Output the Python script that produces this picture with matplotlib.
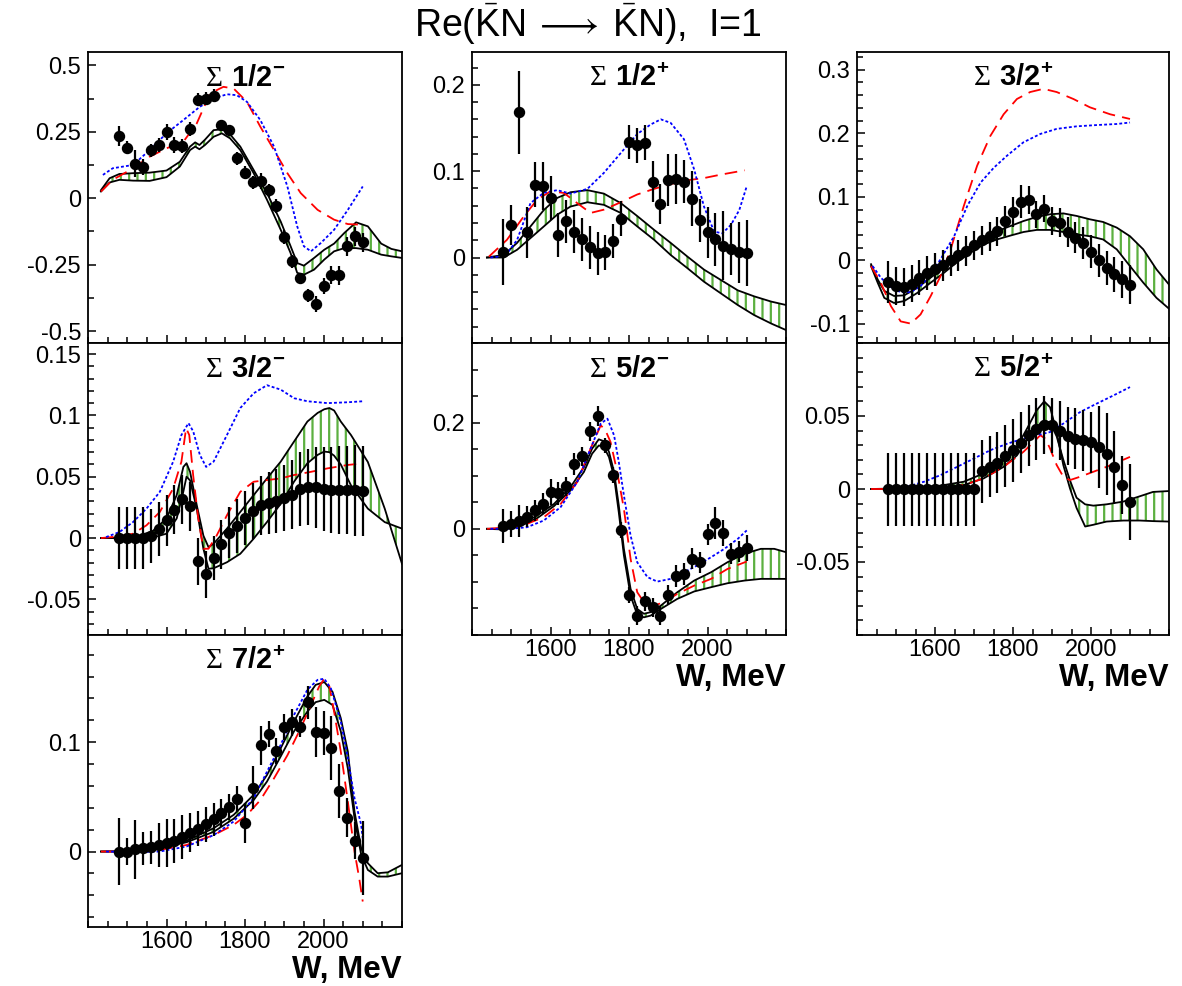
#!/usr/bin/env python3

import numpy as np
from matplotlib import pyplot as plt
from matplotlib.ticker import MultipleLocator, FuncFormatter

plt.rcParams['font.family'] = ['Liberation Sans', 'DejaVu Sans']
plt.rcParams['mathtext.fontset'] = 'custom'
plt.rcParams['mathtext.rm'] = 'Liberation Serif'
plt.rcParams['mathtext.bf'] = 'Liberation Sans:bold'
plt.rcParams['mathtext.sf'] = 'Liberation Sans'
plt.rcParams['axes.unicode_minus'] = False
plt.rcParams['hatch.linewidth'] = 1.6

GREEN = '#5cb040'

# energies of the data points, MeV
W_DATA = np.arange(1480, 2101, 20)

# ---------------- Sigma 1/2-
s11_y = [0.234, 0.19, 0.13, 0.118, 0.18, 0.2, 0.25, 0.2, 0.196, 0.26, 0.37, 0.374, 0.386, 0.275, 0.256, 0.15,
         0.096, 0.06, 0.063, 0.03, -0.029, -0.146, -0.238, -0.30, -0.365, -0.40, -0.329, -0.289, -0.291, -0.181,
         -0.144, -0.166]
s11_err = [0.037, 0.025, 0.05, 0.03, 0.025, 0.025, 0.03, 0.03, 0.025, 0.025, 0.025, 0.025, 0.025, 0.02, 0.02,
           0.025, 0.025, 0.025, 0.03, 0.025, 0.025, 0.025, 0.025, 0.02, 0.025, 0.03, 0.03, 0.035, 0.035, 0.035,
           0.035, 0.035]
s11_band_w = [1433, 1455, 1480, 1515, 1557, 1600, 1634, 1660, 1673, 1684, 1698, 1720, 1741, 1762, 1788, 1822,
              1856, 1891, 1916, 1933, 1950, 1976, 2002, 2027, 2053, 2083, 2113, 2147, 2173, 2200]
s11_band_hi = [0.03, 0.075, 0.091, 0.094, 0.096, 0.104, 0.137, 0.194, 0.21, 0.2, 0.22, 0.256, 0.259, 0.24,
               0.194, 0.106, 0.019, -0.088, -0.18, -0.244, -0.254, -0.225, -0.194, -0.171, -0.131, -0.091,
               -0.106, -0.171, -0.191, -0.2]
s11_band_lo = [0.025, 0.059, 0.069, 0.066, 0.065, 0.079, 0.119, 0.181, 0.194, 0.184, 0.2, 0.231, 0.244, 0.225,
               0.181, 0.094, -0.006, -0.119, -0.206, -0.281, -0.288, -0.269, -0.231, -0.2, -0.188, -0.188,
               -0.194, -0.2125, -0.219, -0.225]
s11_red_w = [1433, 1463, 1515, 1557, 1600, 1643, 1677, 1711, 1745, 1771, 1805, 1839, 1874, 1908, 1942, 1985,
             2027, 2062, 2100]
s11_red = [0.025, 0.069, 0.1125, 0.156, 0.1875, 0.2125, 0.281, 0.394, 0.419, 0.4125, 0.3625, 0.269, 0.181,
           0.094, 0.019, -0.044, -0.081, -0.0975, -0.1]
s11_blue_w = [1438, 1463, 1515, 1557, 1600, 1643, 1685, 1720, 1754, 1779, 1805, 1839, 1874, 1908, 1933, 1950,
              1968, 1993, 2027, 2062, 2100]
s11_blue = [0.0875, 0.1125, 0.125, 0.181, 0.244, 0.294, 0.344, 0.375, 0.391, 0.3875, 0.3625, 0.294, 0.194,
            0.044, -0.106, -0.181, -0.2, -0.169, -0.119, -0.044, 0.044]

# ---------------- Sigma 1/2+
p11_y = [0.0066, 0.038, 0.168, 0.029, 0.0845, 0.083, 0.069, 0.026, 0.042, 0.030, 0.021, 0.012, 0.005, 0.006,
         0.019, 0.045, 0.134, 0.13, 0.133, 0.088, 0.062, 0.0895, 0.091, 0.088, 0.068, 0.043, 0.029, 0.021,
         0.0136, 0.010, 0.006, 0.005]
p11_err = [0.038, 0.023, 0.048, 0.029, 0.026, 0.028, 0.025, 0.025, 0.025, 0.025, 0.025, 0.025, 0.025, 0.02,
           0.02, 0.02, 0.02, 0.02, 0.02, 0.024, 0.023, 0.03, 0.029, 0.025, 0.032, 0.025, 0.029, 0.031, 0.04,
           0.03, 0.035, 0.038]
p11_band_w = [1438, 1481, 1515, 1549, 1583, 1617, 1651, 1694, 1736, 1779, 1821, 1864, 1906, 1949, 1991, 2034,
              2077, 2119, 2162, 2200]
p11_band_hi = [0, 0.003, 0.017, 0.036, 0.055, 0.069, 0.0756, 0.078, 0.074, 0.063, 0.048, 0.032, 0.017, 0.001,
               -0.014, -0.026, -0.038, -0.045, -0.051, -0.055]
p11_band_lo = [0, 0, 0.009, 0.0225, 0.036, 0.0496, 0.059, 0.064, 0.061, 0.0516, 0.036, 0.0205, 0.003, -0.0124,
               -0.028, -0.0415, -0.055, -0.0667, -0.0764, -0.084]
p11_red_w = [1443, 1489, 1532, 1566, 1600, 1634, 1668, 1702, 1736, 1779, 1821, 1864, 1906, 1949, 1991, 2034,
             2095]
p11_red = [0.001, 0.0205, 0.0477, 0.067, 0.0767, 0.0748, 0.063, 0.0516, 0.0554, 0.064, 0.073, 0.0795, 0.085,
           0.0895, 0.092, 0.096, 0.101]
p11_blue_w = [1447, 1485, 1515, 1549, 1583, 1617, 1651, 1694, 1736, 1779, 1821, 1855, 1881, 1906, 1940, 1966,
              1991, 2017, 2038, 2060, 2081, 2100]
p11_blue = [0, 0.002, 0.0205, 0.063, 0.075, 0.078, 0.074, 0.0795, 0.098, 0.121, 0.143, 0.154, 0.16, 0.156,
            0.137, 0.102, 0.059, 0.030, 0.028, 0.038, 0.055, 0.0826]

# ---------------- Sigma 3/2+
p13_y = [-0.034, -0.0405, -0.0416, -0.037, -0.027, -0.0195, -0.014, -0.008, 0.0005, 0.008, 0.0147, 0.0237,
         0.0316, 0.038, 0.046, 0.062, 0.076, 0.092, 0.0947, 0.0726, 0.0816, 0.062, 0.0595, 0.0447, 0.0358,
         0.0268, 0.0137, 0.0005, -0.0116, -0.022, -0.030, -0.038]
p13_err = [0.033, 0.03, 0.03, 0.029, 0.028, 0.027, 0.026, 0.025, 0.025, 0.024, 0.024, 0.023, 0.023, 0.023,
           0.023, 0.023, 0.023, 0.026, 0.022, 0.021, 0.021, 0.022, 0.023, 0.024, 0.024, 0.025, 0.026, 0.026,
           0.027, 0.028, 0.029, 0.03]
p13_band_w = [1436, 1453, 1470, 1495, 1521, 1555, 1589, 1623, 1657, 1691, 1725, 1759, 1793, 1827, 1861, 1895,
              1929, 1963, 1997, 2031, 2066, 2100, 2134, 2168, 2200]
p13_band_hi = [-0.006, -0.030, -0.048, -0.056, -0.055, -0.043, -0.027, -0.0116, 0.0068, 0.0226, 0.0358, 0.046,
               0.054, 0.062, 0.0684, 0.0726, 0.074, 0.07, 0.0647, 0.0605, 0.0516, 0.038, 0.0174, -0.0142, -0.038]
p13_band_lo = [-0.009, -0.035, -0.059, -0.067, -0.064, -0.051, -0.035, -0.0195, -0.0026, 0.012, 0.025, 0.033,
               0.039, 0.0447, 0.048, 0.048, 0.0447, 0.041, 0.038, 0.033, 0.0174, -0.009, -0.035, -0.059, -0.076]
p13_red_w = [1436, 1461, 1487, 1512, 1538, 1563, 1589, 1614, 1640, 1674, 1708, 1742, 1776, 1810, 1844, 1878,
             1912, 1955, 1997, 2049, 2100]
p13_red = [-0.009, -0.035, -0.072, -0.096, -0.0995, -0.085, -0.056, -0.025, 0.017, 0.086, 0.149, 0.196, 0.23,
           0.254, 0.265, 0.27, 0.265, 0.254, 0.241, 0.23, 0.2226]
p13_blue_w = [1440, 1461, 1487, 1512, 1538, 1563, 1589, 1614, 1649, 1683, 1717, 1751, 1785, 1827, 1870, 1912,
              1963, 2014, 2066, 2100]
p13_blue = [-0.009, -0.027, -0.043, -0.05, -0.05, -0.0405, -0.022, 0.0016, 0.038, 0.086, 0.1226, 0.146, 0.165,
            0.186, 0.199, 0.207, 0.211, 0.213, 0.2147, 0.217]

# ---------------- Sigma 3/2-
d13_y = [0, 0, 0, 0, 0.0014, 0.007, 0.0145, 0.023, 0.0317, 0.026, -0.019, -0.0295, -0.0164, -0.005, 0.0044,
         0.0098, 0.016, 0.022, 0.0268, 0.0287, 0.0303, 0.0328, 0.0355, 0.04, 0.0418, 0.0413, 0.04, 0.039, 0.039,
         0.039, 0.0388, 0.0383]
d13_err = [0.025, 0.025, 0.025, 0.025, 0.022, 0.022, 0.021, 0.02, 0.02, 0.02, 0.019, 0.019, 0.018, 0.02, 0.021,
           0.022, 0.022, 0.023, 0.024, 0.025, 0.026, 0.027, 0.028, 0.03, 0.031, 0.033, 0.034, 0.035, 0.036, 0.036,
           0.037, 0.037]
d13_band_w = [1433, 1480, 1532, 1566, 1600, 1626, 1643, 1651, 1660, 1677, 1694, 1707, 1720, 1754, 1788, 1822,
              1856, 1891, 1925, 1959, 1985, 2002, 2015, 2027, 2044, 2070, 2113, 2156, 2200]
d13_band_a = [0, 0, 0.002, 0.006, 0.016, 0.035, 0.058, 0.061, 0.054, 0.027, 0.002, -0.0074, -0.0046, 0.0077,
              0.0213, 0.035, 0.0486, 0.0623, 0.0787, 0.095, 0.102, 0.105, 0.106, 0.104, 0.095, 0.084, 0.062,
              0.024, -0.021]
d13_band_b = [0, 0, 0, 0.0005, 0.0036, 0.016, 0.038, 0.05, 0.047, 0.024, -0.0087, -0.025, -0.0246, -0.0197,
              -0.0128, -0.0005, 0.0131, 0.028, 0.046, 0.061, 0.0678, 0.0705, 0.07, 0.0672, 0.06, 0.043, 0.024,
              0.013, 0.0077]
d13_red_w = [1433, 1480, 1515, 1549, 1583, 1617, 1638, 1650, 1658, 1668, 1681, 1694, 1707, 1728, 1754, 1788,
             1822, 1856, 1891, 1925, 1968, 2010, 2062, 2100]
d13_red = [0, 0.0014, 0.0036, 0.0104, 0.0213, 0.0404, 0.0623, 0.0896, 0.084, 0.051, 0.0158, -0.0087, -0.0087,
           0.0022, 0.0186, 0.0377, 0.0459, 0.0473, 0.0486, 0.0514, 0.054, 0.0568, 0.0596, 0.0609]
d13_blue_w = [1446, 1480, 1515, 1549, 1583, 1617, 1638, 1656, 1668, 1685, 1701, 1720, 1754, 1788, 1822, 1856,
              1891, 1925, 1959, 2010, 2062, 2100]
d13_blue = [0.0008, 0.0049, 0.0131, 0.024, 0.0377, 0.0623, 0.084, 0.0937, 0.087, 0.0678, 0.058, 0.0623, 0.084,
            0.106, 0.118, 0.1246, 0.121, 0.114, 0.1115, 0.110, 0.1107, 0.1115]

# ---------------- Sigma 5/2-
d15_y = [0.0044, 0.0088, 0.0145, 0.023, 0.035, 0.047, 0.069, 0.067, 0.080, 0.122, 0.137, 0.184, 0.2126, 0.157,
         0.102, -0.002, -0.1245, -0.1635, -0.1365, -0.148, -0.1635, -0.124, -0.089, -0.085, -0.0566, -0.063,
         -0.0107, 0.0113, -0.0075, -0.047, -0.043, -0.0365]
d15_err = [0.032, 0.025, 0.03, 0.02, 0.02, 0.02, 0.025, 0.022, 0.018, 0.02, 0.018, 0.018, 0.018, 0.015, 0.015,
           0.015, 0.015, 0.018, 0.018, 0.018, 0.018, 0.018, 0.02, 0.02, 0.02, 0.02, 0.02, 0.03, 0.025, 0.02,
           0.02, 0.025]
d15_band_w = [1438, 1481, 1523, 1566, 1609, 1651, 1685, 1706, 1723, 1736, 1749, 1762, 1774, 1787, 1804, 1821,
              1838, 1855, 1881, 1923, 1966, 2009, 2051, 2094, 2136, 2170, 2200]
d15_band_hi = [0, 0, 0.0075, 0.025, 0.047, 0.0786, 0.116, 0.151, 0.1686, 0.165, 0.145, 0.107, 0.044, -0.038,
               -0.113, -0.151, -0.160, -0.157, -0.1447, -0.1195, -0.0975, -0.0818, -0.0629, -0.047, -0.0377,
               -0.0377, -0.044]
d15_band_lo = [0, -0.0013, 0.005, 0.020, 0.0428, 0.0723, 0.107, 0.1415, 0.157, 0.154, 0.135, 0.0975, 0.031,
               -0.050, -0.126, -0.162, -0.1667, -0.1635, -0.151, -0.132, -0.118, -0.110, -0.1025, -0.0975,
               -0.0943, -0.0943, -0.0943]
d15_red_w = [1438, 1498, 1540, 1583, 1626, 1668, 1702, 1728, 1740, 1753, 1770, 1787, 1804, 1821, 1838, 1864,
             1889, 1923, 1966, 2009, 2051, 2100]
d15_red = [0, 0.003, 0.0094, 0.022, 0.047, 0.088, 0.151, 0.195, 0.1855, 0.1635, 0.107, 0.0377, -0.0566,
           -0.1195, -0.138, -0.1447, -0.138, -0.1226, -0.107, -0.0943, -0.0755, -0.0616]
d15_blue_w = [1447, 1498, 1540, 1583, 1626, 1668, 1702, 1728, 1745, 1762, 1774, 1787, 1804, 1821, 1847, 1872,
              1906, 1940, 1974, 2009, 2043, 2077, 2100]
d15_blue = [0, 0, 0.003, 0.0157, 0.041, 0.088, 0.151, 0.198, 0.2075, 0.176, 0.126, 0.063, -0.0126, -0.063,
            -0.091, -0.0994, -0.0943, -0.0818, -0.069, -0.0535, -0.0377, -0.019, -0.003]

# ---------------- Sigma 5/2+
f15_y = [0, 0, 0, 0, 0, 0, 0, 0, 0, 0, 0, 0, 0.0123, 0.0152, 0.018, 0.0225, 0.0266, 0.0318, 0.0368, 0.041,
         0.044, 0.0436, 0.040, 0.0364, 0.0345, 0.0334, 0.032, 0.029, 0.024, 0.015, 0.0027, -0.009]
f15_err = [0.025, 0.025, 0.025, 0.025, 0.025, 0.025, 0.025, 0.025, 0.025, 0.025, 0.025, 0.025, 0.0216, 0.021,
           0.021, 0.021, 0.0216, 0.021, 0.021, 0.021, 0.02, 0.019, 0.02, 0.02, 0.021, 0.021, 0.021, 0.028,
           0.028, 0.025, 0.02, 0.026]
f15_band_w = [1436, 1529, 1614, 1674, 1725, 1776, 1810, 1836, 1861, 1880, 1895, 1912, 1929, 1946, 1963, 1985,
              2006, 2040, 2083, 2125, 2159, 2200]
f15_band_a = [0, 0.0005, 0.0023, 0.005, 0.0107, 0.0198, 0.0289, 0.0414, 0.054, 0.06, 0.056, 0.039, 0.0164,
              0.0005, -0.013, -0.0257, -0.0245, -0.0223, -0.0216, -0.0216, -0.022, -0.0223]
f15_band_b = [0, 0, 0.0009, 0.0027, 0.0073, 0.0152, 0.023, 0.0334, 0.0425, 0.047, 0.0455, 0.036, 0.02, 0.006,
              -0.006, -0.0105, -0.0114, -0.0105, -0.0086, -0.005, -0.002, -0.0014]
f15_red_w = [1436, 1529, 1614, 1674, 1725, 1776, 1827, 1853, 1870, 1883, 1895, 1912, 1929, 1946, 1972, 2006,
             2040, 2074, 2100]
f15_red = [0, 0, 0.0005, 0.0027, 0.0073, 0.0152, 0.0255, 0.0323, 0.0368, 0.0345, 0.0277, 0.0164, 0.0084,
           0.0061, 0.0084, 0.0118, 0.0152, 0.019, 0.022]
f15_blue_w = [1478, 1529, 1572, 1614, 1657, 1700, 1742, 1785, 1827, 1861, 1895, 1929, 1972, 2014, 2057, 2100]
f15_blue = [0, 0.0016, 0.005, 0.0095, 0.0152, 0.0209, 0.0266, 0.031, 0.0345, 0.0368, 0.039, 0.0448, 0.0527,
            0.0584, 0.064, 0.0698]

# ---------------- Sigma 7/2+
f17_y = [0, 0, 0.002, 0.003, 0.004, 0.006, 0.0076, 0.0098, 0.013, 0.0174, 0.0207, 0.025, 0.0296, 0.035, 0.041,
         0.048, 0.026, 0.0585, 0.097, 0.1076, 0.092, 0.1137, 0.118, 0.1143, 0.1366, 0.109, 0.1085, 0.0945,
         0.0555, 0.031, 0.0098, -0.006]
f17_err = [0.031, 0.012, 0.027, 0.015, 0.015, 0.02, 0.022, 0.02, 0.02, 0.018, 0.016, 0.016, 0.015, 0.013, 0.012,
           0.012, 0.018, 0.02, 0.018, 0.012, 0.012, 0.012, 0.012, 0.01, 0.015, 0.023, 0.02, 0.029, 0.025, 0.018,
           0.017, 0.034]
f17_band_w = [1433, 1515, 1583, 1651, 1720, 1771, 1822, 1856, 1891, 1925, 1959, 1980, 2002, 2023, 2044, 2062,
              2079, 2096, 2113, 2138, 2164, 2200]
f17_band_hi = [0, 0.0006, 0.0037, 0.0098, 0.0213, 0.0335, 0.0518, 0.070, 0.0945, 0.119, 0.1418, 0.1524, 0.155,
               0.146, 0.122, 0.0915, 0.0366, 0.003, -0.0107, -0.0198, -0.019, -0.0122]
f17_band_lo = [0, 0, 0.003, 0.0085, 0.018, 0.030, 0.047, 0.064, 0.087, 0.11, 0.128, 0.1366, 0.1387, 0.134,
               0.11, 0.076, 0.0305, -0.003, -0.0168, -0.0229, -0.0229, -0.0198]
f17_red_w = [1433, 1515, 1583, 1651, 1720, 1771, 1805, 1839, 1874, 1908, 1942, 1968, 1989, 2002, 2015, 2027,
             2044, 2062, 2079, 2091, 2100]
f17_red = [0, 0, 0.0015, 0.006, 0.015, 0.0244, 0.0335, 0.047, 0.067, 0.088, 0.1128, 0.134, 0.151, 0.158, 0.151,
           0.128, 0.0915, 0.0457, 0, -0.0244, -0.0457]
f17_blue_w = [1446, 1515, 1583, 1651, 1720, 1771, 1822, 1856, 1891, 1925, 1959, 1985, 2002, 2019, 2044, 2062,
              2079, 2096, 2100]
f17_blue = [0, -0.0006, 0, 0.0046, 0.015, 0.0274, 0.0488, 0.073, 0.0976, 0.125, 0.148, 0.157, 0.158, 0.149,
            0.119, 0.0854, 0.0488, 0.0244, 0.012]

# labelled y ticks of every panel
s11_ticks = [-0.5, -0.25, 0, 0.25, 0.5]
p11_ticks = [0, 0.1, 0.2]
p13_ticks = [-0.1, 0, 0.1, 0.2, 0.3]
d13_ticks = [-0.05, 0, 0.05, 0.1, 0.15]
d15_ticks = [0, 0.2]
f15_ticks = [-0.05, 0, 0.05]
f17_ticks = [0, 0.1]
W_TICKS = [1600, 1800, 2000]

# (title, column, row, ylim, major ticks, minor step, points, errors, band, red, blue, x labels)
panels = [
    (r'$\Sigma\ \mathbf{1/2}^{\mathbf{-}}$', 0, 0, (-0.545, 0.55), s11_ticks, 0.125, s11_y, s11_err,
     (s11_band_w, s11_band_hi, s11_band_lo), (s11_red_w, s11_red), (s11_blue_w, s11_blue), False),
    (r'$\Sigma\ \mathbf{1/2}^{\mathbf{+}}$', 1, 0, (-0.099, 0.238), p11_ticks, 0.02, p11_y, p11_err,
     (p11_band_w, p11_band_hi, p11_band_lo), (p11_red_w, p11_red), (p11_blue_w, p11_blue), False),
    (r'$\Sigma\ \mathbf{3/2}^{\mathbf{+}}$', 2, 0, (-0.13, 0.328), p13_ticks, 0.02, p13_y, p13_err,
     (p13_band_w, p13_band_hi, p13_band_lo), (p13_red_w, p13_red), (p13_blue_w, p13_blue), False),
    (r'$\Sigma\ \mathbf{3/2}^{\mathbf{-}}$', 0, 1, (-0.079, 0.159), d13_ticks, 0.01, d13_y, d13_err,
     (d13_band_w, d13_band_a, d13_band_b), (d13_red_w, d13_red), (d13_blue_w, d13_blue), False),
    (r'$\Sigma\ \mathbf{5/2}^{\mathbf{-}}$', 1, 1, (-0.2, 0.35), d15_ticks, 0.05, d15_y, d15_err,
     (d15_band_w, d15_band_hi, d15_band_lo), (d15_red_w, d15_red), (d15_blue_w, d15_blue), True),
    (r'$\Sigma\ \mathbf{5/2}^{\mathbf{+}}$', 2, 1, (-0.1, 0.1), f15_ticks, 0.01, f15_y, f15_err,
     (f15_band_w, f15_band_a, f15_band_b), (f15_red_w, f15_red), (f15_blue_w, f15_blue), True),
    (r'$\Sigma\ \mathbf{7/2}^{\mathbf{+}}$', 0, 2, (-0.069, 0.198), f17_ticks, 0.02, f17_y, f17_err,
     (f17_band_w, f17_band_hi, f17_band_lo), (f17_red_w, f17_red), (f17_blue_w, f17_blue), True),
]

W_PX, H_PX = 1182, 986
col_left = [88, 472, 857]
col_width = [314, 314, 312]
row_top = [52, 343, 635]
row_height = [291, 292, 292]

fig = plt.figure(figsize=(W_PX / 100, H_PX / 100), dpi=100)

for title, col, row, ylim, yticks, minor, ys, errs, band, red, blue, xlabels in panels:
    rect = [col_left[col] / W_PX, 1 - (row_top[row] + row_height[row]) / H_PX,
            col_width[col] / W_PX, row_height[row] / H_PX]
    ax = fig.add_axes(rect)

    bw, b1, b2 = band
    ax.fill_between(bw, b1, b2, facecolor='none', edgecolor=GREEN, hatch='||', linewidth=0, zorder=1)
    ax.plot(bw, b1, color='k', lw=1.3, zorder=2)
    ax.plot(bw, b2, color='k', lw=1.3, zorder=2)
    ax.plot(red[0], red[1], color='red', lw=1.3, dashes=(7, 4), zorder=3)
    ax.plot(blue[0], blue[1], color='blue', lw=1.3, dashes=(1.6, 1.2), zorder=3)
    ax.errorbar(W_DATA, ys, yerr=errs, fmt='o', color='k', ms=7.2, elinewidth=1.6, capsize=0, zorder=5)

    ax.set_xlim(1400, 2200)
    ax.set_ylim(*ylim)
    ax.set_xticks(W_TICKS)
    ax.xaxis.set_minor_locator(MultipleLocator(50))
    ax.set_yticks(yticks)
    ax.yaxis.set_minor_locator(MultipleLocator(minor))
    ax.yaxis.set_major_formatter(FuncFormatter(lambda v, _: '%g' % round(v, 4)))

    ax.tick_params(which='both', direction='in', top=False, right=False, width=1.1, labelsize=17)
    ax.tick_params(which='major', length=6)
    ax.tick_params(which='minor', length=4)
    ax.tick_params(axis='x', pad=3, labelbottom=xlabels)
    ax.tick_params(axis='y', pad=5)
    for sp in ax.spines.values():
        sp.set_linewidth(1.3)

    ax.text(0.5, 0.958, title, transform=ax.transAxes, ha='center', va='top', fontsize=21)
    if xlabels:
        ax.text(1.0, -0.147, 'W, MeV', transform=ax.transAxes, ha='right', va='center',
                fontsize=22.5, fontweight='bold')

fig.text(0.497, 0.975,
         r'Re($\bar{\mathsf{K}}\mathsf{N}\,\longrightarrow\,\bar{\mathsf{K}}\mathsf{N}$),  I=1',
         ha='center', va='center', fontsize=27)

fig.savefig('out.png', dpi=100)
